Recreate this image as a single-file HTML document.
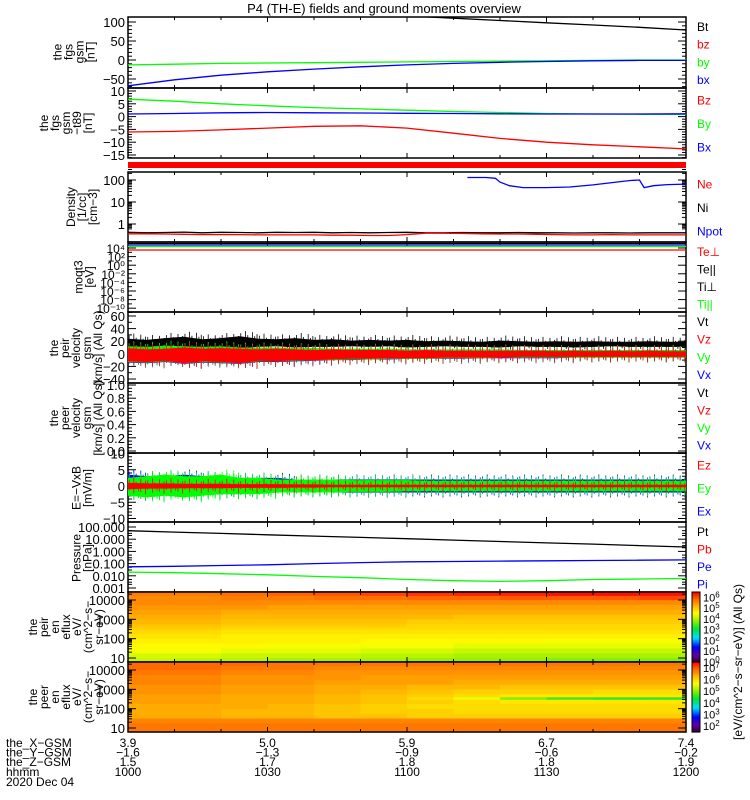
<!DOCTYPE html>
<html><head><meta charset="utf-8">
<style>
html,body{margin:0;padding:0;background:#fff;}
svg{display:block;font-family:"Liberation Sans",sans-serif;}
</style></head>
<body>
<svg id="chart" width="750" height="800" viewBox="0 0 750 800" xmlns="http://www.w3.org/2000/svg">
<text x="384" y="13" font-size="13" text-anchor="middle">P4 (TH-E) fields and ground moments overview</text>
</svg>
<script>
// ---------- data ----------
const timeTicks = [0, 30, 60, 90, 120];
const timeTickLabels = ["1000", "1030", "1100", "1130", "1200"];
const tGrid = [0,4,8,12,16,20,24,28,32,36,40,44,48,52,56,60,64,68,72,76,80,84,88,92,96,100,104,108,112,116,120];
const posTicks = [0, 30, 60, 90, 120];
const xGsm = ["3.9", "5.0", "5.9", "6.7", "7.4"];
const yGsm = ["-1.6", "-1.3", "-0.9", "-0.6", "-0.2"];
const zGsm = ["1.5", "1.7", "1.8", "1.8", "1.9"];
// panel 1: fgs gsm
const fgsT = [0,10,20,30,40,50,60,70,80,90,100,110,120];
const fgsBt = [160,150,142,135,128,122,116,110,104,98,92,86,79];
const fgsBx = [-68,-52,-40,-31,-24,-18,-13,-9,-6,-4,-2,-1,-1];
const fgsBy = [-13,-11,-9,-8,-7,-6,-5,-4,-3,-2,-1,0,0];
// panel 2: fgs gsm - t89
const dT = [0,10,20,30,40,50,60,70,80,90,100,110,120];
const dBx = [1,1.2,1.5,1.6,1.5,1.4,1.3,1.2,1.1,1.0,1.0,1.0,1.1];
const dBy = [6.8,6.0,5.0,4.2,3.5,3.0,2.5,2.0,1.6,1.2,1.0,0.9,0.9];
const dBz = [-6,-5.8,-5.2,-4.5,-3.8,-3.6,-4.5,-6.5,-8.5,-10,-11,-11.8,-12.6];
// panel 3: density
const neT = [73,77,79,80,82,85,90,95,100,105,108,110,111,113,116,120];
const neV = [130,130,120,80,55,45,45,48,60,80,95,100,45,55,62,65];
const niT = tGrid;
const niV = [0.42,0.4,0.41,0.43,0.4,0.42,0.41,0.4,0.42,0.41,0.42,0.4,0.41,0.4,0.41,0.42,0.4,0.4,0.41,0.4,0.4,0.41,0.4,0.4,0.39,0.4,0.4,0.39,0.4,0.4,0.4];
const neRedV = [0.36,0.36,0.35,0.34,0.33,0.33,0.33,0.32,0.32,0.32,0.32,0.31,0.31,0.3,0.3,0.33,0.38,0.38,0.37,0.36,0.35,0.35,0.34,0.33,0.32,0.32,0.33,0.32,0.32,0.32,0.32];
// panel 5: velocity envelopes
const vtHi = [24,22,25,27,23,25,28,24,23,25,22,23,21,22,21,22,20,21,20,19,21,20,19,20,19,20,19,19,20,19,19];
const vtLo = [10,11,10,9,11,10,9,11,12,10,11,11,12,11,12,10,11,12,11,11,10,12,11,11,10,11,12,11,11,11,11];
const vxHi = [10,9,10,10,9,10,9,8,8,8,7,7,7,6,6,6,6,6,5,5,5,5,5,5,5,5,5,5,5,5,5];
const vxLo = [-14,-15,-13,-16,-14,-15,-16,-13,-13,-12,-11,-10,-10,-9,-9,-8,-8,-8,-8,-7,-7,-7,-7,-7,-6,-6,-6,-6,-6,-6,-6];
const vyHi = [12,11,13,12,11,12,10,10,10,9,9,8,8,8,8,7,7,7,7,7,7,6,6,6,6,6,6,6,6,6,6];
const vyLo = [-13,-14,-12,-15,-13,-14,-15,-12,-12,-11,-10,-10,-9,-9,-8,-8,-8,-7,-7,-7,-6,-6,-6,-6,-6,-6,-6,-6,-6,-6,-6];
const vzHi = [9,7,8,10,8,9,8,7,8,7,6,7,6,6,6,5,6,5,5,5,5,5,5,4,5,4,5,4,5,4,4];
const vzLo = [-12,-13,-11,-15,-12,-13,-15,-11,-12,-10,-10,-9,-8,-8,-7,-7,-7,-6,-6,-6,-6,-5,-5,-5,-5,-5,-5,-5,-5,-5,-5];
// panel 7: E field envelopes
const exHi = [3.5,3,3,3.5,3,2.5,2.5,2.5,2.5,2,2,2,2,2,2,2,2,2,2,2,2,2,2,2,2,2,2,2,2,2,2];
const exLo = [-3,-3,-2.5,-3,-2.5,-2.5,-2.5,-2,-2,-2,-2,-2,-2,-2,-2,-2,-2,-2,-2,-2,-2,-2,-2,-2,-2,-2,-2,-2,-2,-2,-2];
const eyHi = [2.5,3,3.5,3,3,3.5,2.5,2.5,2,2,2,2,1.8,1.8,1.8,1.8,1.6,1.6,1.6,1.6,1.6,1.6,1.6,1.6,1.6,1.6,1.6,1.6,1.6,1.6,1.6];
const eyLo = [-3,-3.5,-3,-3.5,-3,-2.5,-2.5,-2.5,-2,-2,-2,-2,-1.8,-1.8,-1.8,-1.6,-1.6,-1.6,-1.6,-1.6,-1.6,-1.6,-1.6,-1.6,-1.6,-1.6,-1.6,-1.6,-1.6,-1.6,-1.6];
const ezHi = [1,0.8,0.8,0.7,0.7,0.7,0.6,0.6,0.6,0.5,0.5,0.4,0.4,0.4,0.4,0.4,0.4,0.4,0.4,0.4,0.4,0.4,0.4,0.4,0.4,0.4,0.4,0.4,0.4,0.4,0.4];
const ezLo = [-1,-0.8,-0.8,-0.7,-0.7,-0.7,-0.6,-0.6,-0.6,-0.5,-0.5,-0.4,-0.4,-0.4,-0.4,-0.4,-0.4,-0.4,-0.4,-0.4,-0.4,-0.4,-0.4,-0.4,-0.4,-0.4,-0.4,-0.4,-0.4,-0.4,-0.4];
// panel 8: pressure
const pT = [0,10,20,30,40,50,60,70,80,90,100,110,120];
const pTot = [50,38,30,23,18,14,11,8.5,6.5,5,4,3,2.3];
const pE = [0.055,0.06,0.07,0.08,0.1,0.12,0.14,0.15,0.16,0.17,0.18,0.19,0.2];
const pI = [0.02,0.018,0.015,0.012,0.009,0.007,0.005,0.004,0.0035,0.004,0.005,0.0055,0.006];
// spectrograms (log10 flux); rows = energy bins (low->high), cols = time bins
const specEnergies = [8,14,25,45,80,140,250,380,450,800,1400,2500,4500,8000,14000,22000];
const specCols = [0,10,20,30,40,50,60,70,80,90,100,110];
const ionFlux = [
 [4.2,4.1,4.1,4.0,4.0,4.0,3.9,3.9,3.9,3.8,3.8,3.8],
 [4.3,4.3,4.2,4.2,4.2,4.1,4.1,4.0,4.0,4.0,4.0,4.0],
 [4.5,4.5,4.4,4.4,4.4,4.3,4.3,4.2,4.2,4.2,4.2,4.2],
 [4.6,4.6,4.6,4.5,4.5,4.5,4.5,4.4,4.4,4.4,4.4,4.4],
 [4.7,4.7,4.7,4.7,4.7,4.6,4.6,4.6,4.6,4.5,4.5,4.5],
 [4.8,4.8,4.7,4.7,4.7,4.7,4.7,4.7,4.7,4.7,4.7,4.7],
 [4.9,4.9,4.8,4.8,4.8,4.8,4.8,4.8,4.8,4.8,4.8,4.8],
 [5.0,5.0,4.9,4.9,4.9,4.9,4.9,4.9,4.9,4.9,4.9,4.9],
 [5.1,5.1,5.0,5.0,5.0,5.0,4.9,4.9,4.9,4.9,4.9,4.9],
 [5.2,5.2,5.1,5.1,5.1,5.1,5.0,5.0,5.0,5.0,5.0,5.0],
 [5.3,5.3,5.2,5.2,5.2,5.2,5.2,5.1,5.1,5.1,5.1,5.1],
 [5.4,5.4,5.3,5.3,5.3,5.3,5.3,5.3,5.3,5.3,5.3,5.3],
 [5.5,5.5,5.5,5.4,5.4,5.4,5.4,5.4,5.4,5.4,5.4,5.4],
 [5.6,5.6,5.6,5.6,5.6,5.6,5.6,5.6,5.6,5.6,5.6,5.6],
 [5.6,5.6,5.7,5.7,5.8,5.8,5.9,5.9,6.0,6.0,6.0,6.1],
 [5.7,5.7,5.8,5.9,6.0,6.1,6.2,6.3,6.3,6.4,6.4,6.4]
];
const eleFlux = [
 [6.8,6.8,6.8,6.8,6.8,6.8,6.8,6.8,6.8,6.8,6.8,6.8],
 [6.8,6.8,6.8,6.8,6.8,6.8,6.8,6.8,6.8,6.8,6.8,6.8],
 [6.7,6.7,6.7,6.7,6.7,6.7,6.7,6.7,6.7,6.7,6.7,6.7],
 [6.4,6.4,6.3,6.3,6.2,6.2,6.1,6.1,6.1,6.1,6.1,6.1],
 [6.4,6.4,6.3,6.3,6.2,6.1,6.1,6.0,6.0,6.0,6.0,6.0],
 [6.4,6.4,6.4,6.3,6.2,6.1,6.0,6.0,6.0,6.0,6.0,6.0],
 [6.5,6.5,6.4,6.4,6.3,6.2,6.1,6.0,5.9,5.9,5.9,5.9],
 [6.5,6.5,6.4,6.4,6.3,6.2,6.0,5.6,5.0,4.7,4.6,4.6],
 [6.5,6.5,6.4,6.4,6.3,6.2,6.1,6.0,5.9,5.9,5.9,5.9],
 [6.6,6.6,6.5,6.5,6.4,6.3,6.2,6.1,6.1,6.1,6.0,6.0],
 [6.6,6.6,6.5,6.5,6.4,6.4,6.3,6.3,6.2,6.2,6.2,6.2],
 [6.7,6.7,6.6,6.6,6.5,6.5,6.5,6.4,6.4,6.4,6.4,6.4],
 [6.7,6.7,6.6,6.6,6.6,6.5,6.5,6.5,6.5,6.5,6.5,6.5],
 [6.8,6.8,6.7,6.7,6.6,6.6,6.6,6.6,6.6,6.6,6.6,6.6],
 [6.9,6.9,6.8,6.8,6.7,6.7,6.7,6.7,6.7,6.7,6.7,6.7],
 [6.9,6.9,6.9,6.8,6.8,6.8,6.8,6.8,6.8,6.8,6.8,6.8]
];

// ---------- helpers ----------
const svg = document.getElementById('chart');
const NS = 'http://www.w3.org/2000/svg';
const X0 = 128, X1 = 686;
function xs(t){ return X0 + (t/120)*(X1-X0); }
function mk(tag, attrs, parent){
  const e = document.createElementNS(NS, tag);
  for (const k in attrs) e.setAttribute(k, attrs[k]);
  (parent||svg).appendChild(e);
  return e;
}
function linScale(v0,v1,y0,y1){ return v => y0 + (v-v0)/(v1-v0)*(y1-y0); }
function logScale(v0,v1,y0,y1){ return v => y0 + (Math.log10(v)-Math.log10(v0))/(Math.log10(v1)-Math.log10(v0))*(y1-y0); }
function stepPath(ts, vs, ys){
  let d='';
  for (let i=0;i<ts.length;i++){
    const x=xs(ts[i]).toFixed(1), y=ys(vs[i]).toFixed(1);
    d += (i===0?'M':'L')+x+','+y;
  }
  return d;
}
function clipFor(id, top, bot){
  const cp = mk('clipPath',{id:id});
  mk('rect',{x:X0,y:top,width:X1-X0,height:bot-top},cp);
  return 'url(#'+id+')';
}
function panelFrame(name, top, bot){
  const g = mk('g',{});
  
  
  mk('rect',{x:X0,y:top,width:X1-X0,height:bot-top,fill:'none',stroke:'#000','stroke-width':1.5},g);
  for (let t=0;t<=120;t+=10){
    const len = (t%30===0)?5:3;
    mk('line',{x1:xs(t),x2:xs(t),y1:top,y2:top+len,stroke:'#000'},g);
    mk('line',{x1:xs(t),x2:xs(t),y1:bot,y2:bot-len,stroke:'#000'},g);
  }
  return g;
}
function yTicks(g, ticks, labels, ys, minor){
  ticks.forEach((v,i)=>{
    const y = ys(v);
    mk('line',{x1:X0,x2:X0+8,y1:y,y2:y,stroke:'#000'},g);
    mk('line',{x1:X1,x2:X1-8,y1:y,y2:y,stroke:'#000'},g);
    const t = mk('text',{x:X0-3,y:y+5,'font-size':13,'text-anchor':'end'},g);
    t.textContent = labels[i];
  });
  (minor||[]).forEach(v=>{
    const y = ys(v);
    mk('line',{x1:X0,x2:X0+4,y1:y,y2:y,stroke:'#000'},g);
    mk('line',{x1:X1,x2:X1-4,y1:y,y2:y,stroke:'#000'},g);
  });
}
function yTitle(g, lines, cx, cy){
  const t = mk('text',{transform:'translate('+cx+','+cy+') rotate(-90)','font-size':12,'text-anchor':'middle'},g);
  lines.forEach((l,i)=>{
    const s = mk('tspan',{x:0,dy:(i===0?-(lines.length-1)*5.5:11)},t);
    s.textContent = l;
  });
}
function legend(g, items, top, bot){
  const n = items.length, step=(bot-top)/n;
  items.forEach((it,i)=>{
    const t = mk('text',{x:697,y:top+step*(i+0.5)+5,'font-size':12,fill:it[1]},g);
    
    
    t.textContent = it[0];
  });
}
function band(g, hi, lo, ys, color, clip){
  let d='';
  tGrid.forEach((t,i)=>{ d += (i===0?'M':'L')+xs(t).toFixed(1)+','+ys(hi[i]).toFixed(1); });
  for (let i=tGrid.length-1;i>=0;i--) d += 'L'+xs(tGrid[i]).toFixed(1)+','+ys(lo[i]).toFixed(1);
  d+='Z';
  const p = mk('path',{d:d,fill:color,'clip-path':clip},g);
  
  
  const spikes=[3,-1,5,1,-2,4,0,2];
  tGrid.forEach((t,i)=>{
    if (i===tGrid.length-1) return;
    for (let k=0;k<8;k++){
      const x = xs(t + k*0.5 + 0.25);
      const h = ys(hi[i]) - spikes[k], l = ys(lo[i]) + spikes[(k+3)%8];
      mk('line',{x1:x,x2:x,y1:h,y2:l,stroke:color,'stroke-width':0.8,'clip-path':clip},g);
    }
  });
}
function line(g, ts, vs, ys, color, clip, name, w){
  const p = mk('path',{d:stepPath(ts,vs,ys),fill:'none',stroke:color,'stroke-width':w||1.3,'clip-path':clip},g);
  
  
}

// ---------- panel 1: fgs gsm ----------
(function(){
  const top=17, bot=88, ys=linScale(0,100,60,22);
  const g = panelFrame('panel-fgs-gsm', top, bot);
  const c = clipFor('c1',top,bot);
  yTicks(g,[100,50,0,-50],['100','50','0','\u221250'],ys,[90,80,70,60,40,30,20,10,-10,-20,-30,-40,-60,-70]);
  yTitle(g,['the','fgs','gsm','[nT]'],78,52);
  line(g,fgsT,fgsBy,ys,'#00ff00',c,'line-by');
  line(g,fgsT,fgsBx,ys,'#0000ff',c,'line-bx');
  line(g,fgsT,fgsBt,ys,'#000',c,'line-bt');
  legend(g,[['Bt','#000'],['bz','#ff0000'],['by','#00ff00'],['bx','#0000ff']],top,bot);
})();
// ---------- panel 2: fgs - t89 ----------
(function(){
  const top=88, bot=158, ys=linScale(0,10,116.6,91);
  const g = panelFrame('panel-fgs-minus-t89', top, bot);
  const c = clipFor('c2',top,bot);
  yTicks(g,[10,5,0,-5,-10,-15],['10','5','0','\u22125','\u221210','\u221215'],ys,[9,8,7,6,4,3,2,1,-1,-2,-3,-4,-6,-7,-8,-9,-11,-12,-13,-14,-16]);
  yTitle(g,['the','fgs','gsm','\u2212t89','[nT]'],70,123);
  line(g,dT,dBy,ys,'#00ff00',c,'line-dby');
  line(g,dT,dBx,ys,'#0000ff',c,'line-dbx');
  line(g,dT,dBz,ys,'#ff0000',c,'line-dbz');
  legend(g,[['Bz','#ff0000'],['By','#00ff00'],['Bx','#0000ff']],top,bot);
})();
// red status bar
(function(){
  const r = mk('rect',{x:X0,y:162,width:X1-X0,height:6,fill:'#ff0000'});
  
  
})();
// ---------- panel 3: density ----------
(function(){
  const top=172, bot=242, ys=logScale(1,100,224,180);
  const g = panelFrame('panel-density', top, bot);
  const c = clipFor('c3',top,bot);
  yTicks(g,[100,10,1],['100','10','1'],ys,[200,300,90,80,70,60,50,40,30,20,9,8,7,6,5,4,3,2,0.9,0.8,0.7,0.6]);
  yTitle(g,['Density','[1/cc]','[cm\u22123]'],86,207);
  line(g,niT,niV,ys,'#000',c,'line-ni');
  line(g,niT,neRedV,ys,'#ff0000',c,'line-ne-red');
  line(g,neT,neV,ys,'#0000ff',c,'line-ne');
  legend(g,[['Ne','#ff0000'],['Ni','#000'],['Npot','#0000ff']],top,bot);
})();
// ---------- panel 4: temperature ----------
(function(){
  const top=242, bot=312;
  const g = panelFrame('panel-temperature', top, bot);
  const c = clipFor('c4',top,bot);
  const tk=[1e4,1e2,1,1e-2,1e-4,1e-6,1e-8,1e-10];
  const lb=['10\u2074','10\u00b2','10\u2070','10\u207b\u00b2','10\u207b\u2074','10\u207b\u2076','10\u207b\u2078','10\u207b\u00b9\u2070'];
  tk.forEach((v,i)=>{
    const y = 248 + i*8.6;
    mk('line',{x1:X0,x2:X0+8,y1:y,y2:y,stroke:'#000'},g);
    mk('line',{x1:X1,x2:X1-8,y1:y,y2:y,stroke:'#000'},g);
    mk('line',{x1:X0,x2:X0+4,y1:y+4.3,y2:y+4.3,stroke:'#000'},g);
    const t = mk('text',{x:X0-3,y:y+5,'font-size':12,'text-anchor':'end'},g);
    t.textContent = lb[i];
  });
  yTitle(g,['moqt3','[eV]'],88,277);
  const tC=[0,120];
  line(g,tC,[1,1],v=>245,'#0000ff',c,'line-ti-perp');
  line(g,tC,[1,1],v=>246.5,'#00ff00',c,'line-ti-par');
  line(g,tC,[1,1],v=>243.5,'#000',c,'line-te-par');
  line(g,tC,[1,1],v=>250,'#ff0000',c,'line-te-perp');
  legend(g,[['Te\u22a5','#ff0000'],['Te||','#000'],['Ti\u22a5','#000'],['Ti||','#00ff00']],top,bot);
})();
// ---------- panel 5: peir velocity ----------
(function(){
  const top=312, bot=383, ys=linScale(0,60,353.8,316);
  const g = panelFrame('panel-peir-velocity', top, bot);
  const c = clipFor('c5',top,bot);
  yTicks(g,[60,40,20,0,-20,-40],['60','40','20','0','\u221220','\u221240'],ys,[50,30,10,-10,-30]);
  yTitle(g,['the','peir','velocity','gsm','[km/s] (All Qs)'],80,348);
  band(g,vtHi,vtLo,ys,'#000',c);
  band(g,vxHi,vxLo,ys,'#0000ff',c);
  band(g,vyHi,vyLo,ys,'#00ff00',c);
  band(g,vzHi,vzLo,ys,'#ff0000',c);
  legend(g,[['Vt','#000'],['Vz','#ff0000'],['Vy','#00ff00'],['Vx','#0000ff']],top,bot);
})();
// ---------- panel 6: peer velocity (empty) ----------
(function(){
  const top=383, bot=453, ys=linScale(0,1,451,385);
  const g = panelFrame('panel-peer-velocity', top, bot);
  yTicks(g,[1,0.8,0.6,0.4,0.2,0],['1.0','0.8','0.6','0.4','0.2','0.0'],ys,[0.9,0.7,0.5,0.3,0.1,0.95,0.85,0.75,0.65,0.55,0.45,0.35,0.25,0.15,0.05]);
  yTitle(g,['the','peer','velocity','gsm','[km/s] (All Qs)'],80,418);
  legend(g,[['Vt','#000'],['Vz','#ff0000'],['Vy','#00ff00'],['Vx','#0000ff']],top,bot);
})();
// ---------- panel 7: E field ----------
(function(){
  const top=453, bot=522, ys=linScale(0,10,486,453.5);
  const g = panelFrame('panel-e-field', top, bot);
  const c = clipFor('c7',top,bot);
  yTicks(g,[10,5,0,-5,-10],['10','5','0','\u22125','\u221210'],ys,[9,8,7,6,4,3,2,1,-1,-2,-3,-4,-6,-7,-8,-9]);
  yTitle(g,['E=\u2212VxB','[mV/m]'],86,488);
  band(g,exHi,exLo,ys,'#0000ff',c);
  band(g,eyHi,eyLo,ys,'#00ff00',c);
  band(g,ezHi,ezLo,ys,'#ff0000',c);
  legend(g,[['Ez','#ff0000'],['Ey','#00ff00'],['Ex','#0000ff']],top,bot);
})();
// ---------- panel 8: pressure ----------
(function(){
  const top=522, bot=592, ys=logScale(0.001,100,588,527);
  const g = panelFrame('panel-pressure', top, bot);
  const c = clipFor('c8',top,bot);
  yTicks(g,[100,10,1,0.1,0.01,0.001],['100.000','10.000','1.000','0.100','0.010','0.001'],ys,[50,30,20,5,3,2,0.5,0.3,0.2,0.05,0.03,0.02,0.005,0.003,0.002]);
  yTitle(g,['Pressure','[nPa]'],86,558);
  line(g,pT,pI,ys,'#00ff00',c,'line-pi');
  line(g,pT,pE,ys,'#0000ff',c,'line-pe');
  line(g,pT,pTot,ys,'#000',c,'line-pt');
  legend(g,[['Pt','#000'],['Pb','#ff0000'],['Pe','#0000ff'],['Pi','#0000ff']],top,bot);
})();
// ---------- spectrograms ----------
const cmapStops = [[0,[40,0,40]],[0.1,[100,0,160]],[0.22,[0,0,255]],[0.35,[0,220,255]],[0.48,[0,230,60]],[0.6,[150,240,0]],[0.7,[255,255,0]],[0.82,[255,170,0]],[0.92,[255,90,0]],[1,[255,0,0]]];
function cmap(f){
  f=Math.max(0,Math.min(1,f));
  for (let i=1;i<cmapStops.length;i++){
    if (f<=cmapStops[i][0]){
      const a=cmapStops[i-1], b=cmapStops[i], u=(f-a[0])/(b[0]-a[0]);
      const c=a[1].map((v,k)=>Math.round(v+(b[1][k]-v)*u));
      return 'rgb('+c.join(',')+')';
    }
  }
  return 'rgb(255,0,0)';
}
function spectro(name, top, bot, flux, fmin, fmax, cbTicks, cbLabels, titleLines, cy){
  const g = mk('g',{});
  
  
  const off = top-592;
  const ys = logScale(10,10000,658+off,600+off);
  const lo=[], hi=[];
  specEnergies.forEach((e,i)=>{
    const prev = i>0?Math.sqrt(e*specEnergies[i-1]):e/1.35;
    const next = i<specEnergies.length-1?Math.sqrt(e*specEnergies[i+1]):e*1.35;
    lo.push(Math.min(bot,ys(prev))); hi.push(Math.max(top,ys(next)));
  });
  lo[0]=bot; hi[hi.length-1]=top;
  const dt = 120/specCols.length;
  flux.forEach((row,r)=>{
    row.forEach((v,ci)=>{
      const x0=xs(specCols[ci]), x1=xs(specCols[ci]+dt);
      const cell = mk('rect',{x:x0.toFixed(1),y:hi[r].toFixed(1),width:(x1-x0+0.6).toFixed(1),height:(lo[r]-hi[r]+0.6).toFixed(1),fill:cmap((v-fmin)/(fmax-fmin))},g);
      
      
    });
  });
  mk('rect',{x:X0,y:top,width:X1-X0,height:bot-top,fill:'none',stroke:'#000','stroke-width':1.5},g);
  for (let t=0;t<=120;t+=10){
    const len=(t%30===0)?5:3;
    mk('line',{x1:xs(t),x2:xs(t),y1:bot,y2:bot-len,stroke:'#000'},g);
    mk('line',{x1:xs(t),x2:xs(t),y1:top,y2:top+len,stroke:'#000'},g);
  }
  const minor=[20,30,40,50,60,70,80,90,200,300,400,500,600,700,800,900,2000,3000,4000,5000,6000,7000,8000,9000,20000];
  yTicks(g,[10000,1000,100,10],['10000','1000','100','10'],ys,minor.filter(v=>ys(v)>top&&ys(v)<bot));
  yTitle(g,titleLines,70,cy);
  const cbx=692, cbw=8, steps=40;
  for (let i=0;i<steps;i++){
    const y = bot - (i+1)*(bot-top)/steps;
    mk('rect',{x:cbx,y:y.toFixed(1),width:cbw,height:((bot-top)/steps+0.5).toFixed(1),fill:cmap((i+0.5)/steps)},g);
  }
  mk('rect',{x:cbx,y:top,width:cbw,height:bot-top,fill:'none',stroke:'#000'},g);
  cbTicks.forEach((v,i)=>{
    const y = bot - (v-fmin)/(fmax-fmin)*(bot-top);
    const t = mk('text',{x:703,y:y+4,'font-size':11},g);
    t.textContent = '10';
    const s = mk('tspan',{dy:-4,'font-size':8},t); s.textContent = cbLabels[i];
  });
}
spectro('panel-peir-spectrogram',592,662,ionFlux,0,6.5,[0,1,2,3,4,5,6],['0','1','2','3','4','5','6'],['the','peir','en','eflux','eV/','(cm^2\u2212s\u2212','sr\u2212eV)'],627);
spectro('panel-peer-spectrogram',662,732,eleFlux,1.5,7.5,[2,3,4,5,6,7],['2','3','4','5','6','7'],['the','peer','en','eflux','eV/','(cm^2\u2212s\u2212','sr\u2212eV)'],697);
(function(){
  const t = mk('text',{transform:'translate(742,662) rotate(-90)','font-size':12,'text-anchor':'middle'});
  
  
  t.textContent = '[eV/(cm^2\u2212s\u2212sr\u2212eV)] (All Qs)';
})();
// ---------- x-axis labels ----------
(function(){
  const g = mk('g',{});
  
  
  const rows=[['the_X\u2212GSM',xGsm],['the_Y\u2212GSM',yGsm],['the_Z\u2212GSM',zGsm],['hhmm',timeTickLabels]];
  rows.forEach((r,i)=>{
    const y = 747 + i*9.6;
    const tl = mk('text',{x:6,y:y,'font-size':12},g); tl.textContent=r[0];
    posTicks.forEach((t,k)=>{
      const tx = mk('text',{x:xs(timeTicks[k]),y:y,'font-size':12,'text-anchor':'middle'},g);
      tx.textContent = r[1][k].replace('-','\u2212');
    });
  });
  const d = mk('text',{x:6,y:786,'font-size':12},g); d.textContent='2020 Dec 04';
})();
</script>
</body></html>
